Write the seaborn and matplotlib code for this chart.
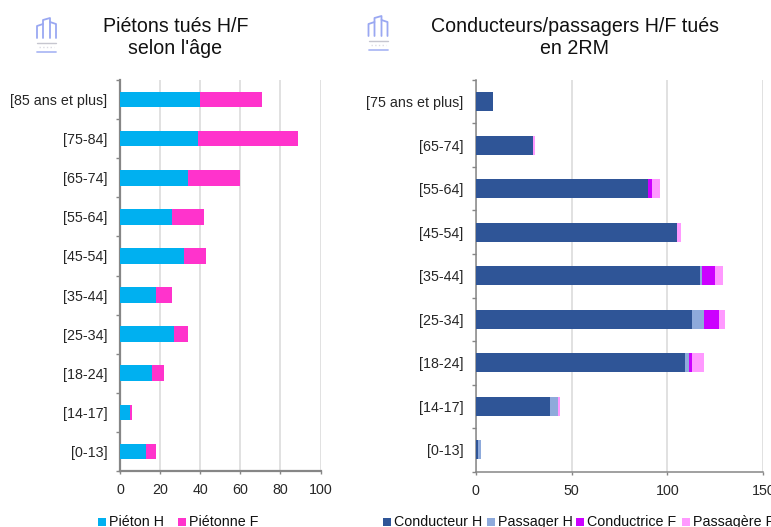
import numpy as np
import pandas as pd
import matplotlib
matplotlib.use("Agg")
import matplotlib.pyplot as plt
from matplotlib.patches import Rectangle
import seaborn as sns

# ---- data ----
AGES_PIETONS = ["[85 ans et plus]", "[75-84]", "[65-74]", "[55-64]", "[45-54]",
                "[35-44]", "[25-34]", "[18-24]", "[14-17]", "[0-13]"]
PIETON_H = [40, 39, 34, 26, 32, 18, 27, 16, 5, 13]
PIETONNE_F = [31, 50, 26, 16, 11, 8, 7, 6, 1, 5]

AGES_2RM = ["[75 ans et plus]", "[65-74]", "[55-64]", "[45-54]", "[35-44]",
            "[25-34]", "[18-24]", "[14-17]", "[0-13]"]
CONDUCTEUR_H = [9, 30, 90, 105, 117, 113, 109, 39, 1]
PASSAGER_H = [0, 0, 0, 0, 1, 6, 2, 4, 2]
CONDUCTRICE_F = [0, 0, 2, 0, 7, 8, 2, 0, 0]
PASSAGERE_F = [0, 1, 4, 2, 4, 3, 6, 1, 0]

TITLE_LEFT = "Piétons tués H/F\nselon l'âge"
TITLE_RIGHT = "Conducteurs/passagers H/F tués\nen 2RM"

W, H = 771, 527
GRID = "#d9d9d9"
AXIS = "#868686"

sns.set_theme(style="white")
plt.rcParams["font.family"] = ["Liberation Sans", "DejaVu Sans"]
plt.rcParams["text.color"] = "#111111"


def px_axes(fig, x0, x1, y0, y1):
    return fig.add_axes([x0 / W, 1 - y1 / H, (x1 - x0) / W, (y1 - y0) / H])


def stacked(ax, cats, series, colors, bar_w):
    # on dessine du plus long au plus court, chaque barre recouvre la precedente
    names = list(series)
    cumul = np.cumsum([series[n] for n in names], axis=0)
    for i in range(len(names) - 1, -1, -1):
        df = pd.DataFrame({"age": cats, "val": cumul[i]})
        sns.barplot(data=df, x="val", y="age", color=colors[i], width=bar_w,
                    saturation=1, linewidth=0, ax=ax, zorder=3)


def habille(ax, n, xmax, xticks, spine_w):
    ax.set_xlim(0, xmax)
    ax.set_ylim(n - 0.5, -0.5)
    ax.set_xticks(xticks)
    ax.set_xlabel("")
    ax.set_ylabel("")
    ax.grid(axis="x", color=GRID, linewidth=1.1, zorder=0)
    ax.grid(axis="y", visible=False)
    ax.set_axisbelow(True)
    for s in ["top", "right"]:
        ax.spines[s].set_visible(False)
    for s in ["left", "bottom"]:
        ax.spines[s].set_color(AXIS)
        ax.spines[s].set_linewidth(spine_w)
    ax.set_yticks(np.arange(n + 1) - 0.5, minor=True)
    ax.tick_params(axis="y", which="minor", length=3.2, width=1, color=AXIS, left=True)
    ax.tick_params(axis="y", which="major", length=0, pad=9, labelsize=10.3, left=False)
    ax.tick_params(axis="x", which="major", length=2.5, width=1, color=AXIS, bottom=True,
                   pad=6.5, labelsize=10.3)
    ax.tick_params(axis="x", which="minor", bottom=False)


def legende(fig, names, colors, xs):
    # legende manuelle: meme ligne de base pour tous les libelles, coupee en bas comme l'original
    for name, c, x in zip(names, colors, xs):
        fig.add_artist(Rectangle((x / W, 1 - 526 / H), 8 / W, 8 / H, color=c, lw=0,
                                 transform=fig.transFigure))
        fig.text((x + 11) / W, 1 - 526 / H, name, ha="left", va="baseline", fontsize=10.3)


def logo(fig, x0, y0):
    # petit logo bleu en haut a gauche de chaque graphique
    la = px_axes(fig, x0, x0 + 23, y0, y0 + 37)
    la.set_xlim(0, 23)
    la.set_ylim(37, 0)
    la.axis("off")
    c = "#9aa8f2"
    la.plot([2, 2, 8, 8], [21, 9, 7, 21], color=c, lw=1.3)
    la.plot([8, 8, 15, 15], [7, 3, 1, 21], color=c, lw=1.3)
    la.plot([15, 21, 21], [5, 7, 21], color=c, lw=1.3)
    la.plot([2, 21], [26, 26], color="#a0a0b0", lw=1, alpha=0.6)
    la.plot([4, 19], [30, 30], color="#b8b8c8", lw=1, alpha=0.5, ls=":")
    la.plot([2, 21], [34.5, 34.5], color=c, lw=1.3, alpha=0.8)


fig = plt.figure(figsize=(W / 100, H / 100), dpi=100)

# ---- pietons ----
ax1 = px_axes(fig, 120, 320.5, 80, 471)
serie1 = {"Piéton H": PIETON_H, "Piétonne F": PIETONNE_F}
couleurs1 = ["#00b0f0", "#ff33cc"]
stacked(ax1, AGES_PIETONS, serie1, couleurs1, 0.4)
habille(ax1, len(AGES_PIETONS), 100, [0, 20, 40, 60, 80, 100], 1.6)
legende(fig, list(serie1), couleurs1, [98, 178])
fig.text(175.5 / W, 1 - 37.5 / H, TITLE_LEFT, ha="center", va="center", fontsize=14.1, linespacing=1.25)
logo(fig, 35, 17)

# ---- 2RM ----
ax2 = px_axes(fig, 475.7, 763.3, 80, 471.5)
serie2 = {"Conducteur H": CONDUCTEUR_H, "Passager H": PASSAGER_H,
          "Conductrice F": CONDUCTRICE_F, "Passagère F": PASSAGERE_F}
couleurs2 = ["#2f5597", "#8eaadb", "#cc00ff", "#ff99ff"]
stacked(ax2, AGES_2RM, serie2, couleurs2, 0.44)
habille(ax2, len(AGES_2RM), 150, [0, 50, 100, 150], 1.1)
legende(fig, list(serie2), couleurs2, [383.3, 486.7, 576, 681.7])
fig.text(575 / W, 1 - 37.5 / H, TITLE_RIGHT, ha="center", va="center", fontsize=14.1, linespacing=1.25)
logo(fig, 366.5, 15)

fig.savefig("out.png", dpi=100)
